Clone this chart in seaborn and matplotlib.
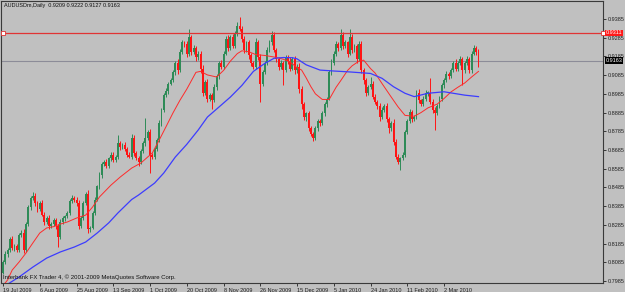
"""
Gráfico diario AUDUSDm al estilo MetaTrader 4: velas, dos medias móviles,
línea horizontal de resistencia y línea de precio Bid.
"""

import matplotlib
matplotlib.use('Agg')
import matplotlib.pyplot as plt
import matplotlib.transforms as mtransforms
import numpy as np
import pandas as pd
import seaborn as sns

# Precios en pips (x 0.0001). La apertura de cada vela es el cierre anterior.
APERTURA_INICIAL = 8030
CIERRES = [
    8085, 8130, 8150, 8210, 8160, 8170, 8150, 8230, 8240, 8150, 8290, 8380, 8430, 8440, 8400, 8370,
    8400, 8340, 8300, 8320, 8280, 8290, 8310, 8280, 8220, 8300, 8320, 8330, 8350, 8410, 8430, 8420,
    8400, 8280, 8320, 8400, 8450, 8260, 8270, 8350, 8420, 8490, 8550, 8610, 8620, 8600, 8640, 8660,
    8630, 8650, 8720, 8700, 8710, 8690, 8660, 8650, 8750, 8670, 8640, 8620, 8680, 8720, 8750, 8780,
    8660, 8650, 8690, 8740, 8830, 8900, 8980, 9000, 9040, 9060, 9100, 9150, 9110, 9210, 9260, 9250,
    9200, 9290, 9210, 9230, 9180, 9200, 9120, 8990, 9050, 8960, 8980, 8950, 9020, 9080, 9150, 9130,
    9200, 9280, 9230, 9290, 9240, 9310, 9350, 9330, 9280, 9220, 9260, 9190, 9150, 9130, 9260, 9180,
    9040, 9100, 9150, 9220, 9260, 9300, 9220, 9170, 9130, 9150, 9110, 9180, 9160, 9120, 9170, 9110,
    9130, 9010, 8930, 8860, 8880, 8800, 8770, 8750, 8800, 8840, 8830, 8880, 8930, 8960, 9100, 9150,
    9200, 9250, 9230, 9300, 9240, 9260, 9200, 9290, 9220, 9240, 9170, 9250, 9110, 9060, 8990, 9020,
    9040, 8970, 8940, 8920, 8860, 8900, 8920, 8850, 8800, 8830, 8730, 8650, 8620, 8640, 8660, 8780,
    8840, 8890, 8850, 8860, 8990, 8950, 8930, 8960, 8990, 8990, 8940, 8900, 8880, 8920, 8960, 9030,
    9060, 9090, 9080, 9110, 9150, 9120, 9150, 9170, 9110, 9150, 9170, 9110, 9200, 9230, 9209, 9163,
]
MECHA_SUP = [
    10, 15, 12, 10, 15, 10, 12, 10, 15, 20, 10, 12, 10, 20, 15, 12,
    10, 15, 12, 10, 15, 8, 10, 12, 10, 15, 10, 8, 10, 12, 15, 10,
    12, 15, 10, 10, 12, 20, 10, 10, 12, 10, 15, 10, 12, 15, 10, 12,
    15, 10, 45, 12, 10, 15, 10, 12, 20, 15, 10, 12, 10, 15, 105, 12,
    15, 10, 12, 10, 15, 10, 12, 15, 10, 12, 15, 10, 20, 15, 12, 10,
    15, 40, 12, 15, 10, 12, 15, 20, 10, 15, 12, 10, 15, 12, 10, 15,
    12, 15, 20, 10, 15, 12, 20, 47, 15, 12, 10, 15, 12, 10, 25, 15,
    20, 12, 10, 15, 12, 20, 15, 10, 12, 15, 10, 15, 12, 20, 10, 15,
    12, 20, 15, 12, 10, 15, 12, 10, 15, 12, 10, 15, 12, 10, 15, 20,
    12, 15, 10, 30, 15, 12, 10, 40, 15, 12, 10, 15, 20, 15, 12, 10,
    35, 15, 12, 10, 15, 12, 10, 15, 12, 10, 20, 15, 12, 10, 15, 10,
    12, 15, 10, 12, 15, 20, 10, 12, 15, 10, 80, 15, 12, 10, 15, 12,
    10, 15, 12, 15, 10, 20, 12, 15, 10, 12, 15, 10, 12, 16, 12, 13,
]
MECHA_INF = [
    10, 12, 15, 10, 12, 15, 10, 12, 10, 15, 12, 10, 15, 10, 12, 15,
    12, 10, 15, 12, 20, 10, 12, 15, 55, 12, 10, 15, 10, 12, 10, 15,
    12, 15, 10, 12, 10, 20, 15, 10, 12, 10, 12, 15, 10, 12, 10, 15,
    12, 10, 12, 15, 10, 12, 15, 10, 12, 15, 10, 20, 12, 10, 15, 12,
    100, 15, 12, 10, 12, 15, 10, 12, 15, 10, 12, 15, 20, 10, 12, 15,
    20, 12, 15, 10, 20, 12, 25, 15, 12, 20, 15, 45, 10, 12, 15, 10,
    12, 10, 15, 12, 10, 12, 15, 10, 20, 15, 12, 20, 15, 12, 10, 15,
    96, 12, 10, 12, 10, 15, 12, 15, 20, 12, 80, 10, 15, 12, 10, 20,
    12, 20, 25, 15, 20, 15, 12, 15, 10, 12, 15, 10, 12, 15, 10, 12,
    10, 12, 15, 10, 15, 12, 20, 10, 15, 12, 20, 10, 15, 20, 15, 12,
    10, 15, 12, 15, 20, 10, 12, 15, 25, 12, 20, 15, 12, 42, 10, 12,
    10, 12, 15, 12, 10, 15, 12, 10, 12, 15, 12, 15, 88, 10, 12, 15,
    12, 10, 15, 12, 10, 15, 12, 10, 80, 12, 10, 15, 12, 10, 15, 36,
]

MA_ROJA_BARRA = [0, 2, 4, 7, 10, 13, 16, 19, 22, 25, 28, 32, 36, 39, 42, 47, 51, 56, 60, 65,
                 68, 71, 74, 77, 80, 84, 86, 89, 93, 96, 99, 102, 104, 107, 110, 114, 118, 122,
                 125, 128, 130, 132, 134, 136, 139, 142, 145, 147, 150, 152, 155, 157, 160, 162,
                 165, 169, 172, 175, 179, 182, 185, 189, 192, 195, 198, 201, 204, 207]
MA_ROJA_VALOR = [7960, 7990, 8043, 8086, 8134, 8188, 8241, 8268, 8275, 8289, 8300, 8321, 8337,
                 8380, 8434, 8497, 8540, 8588, 8615, 8669, 8738, 8810, 8883, 8950, 9010, 9100,
                 9105, 9086, 9075, 9110, 9160, 9200, 9215, 9210, 9195, 9190, 9182, 9170, 9155,
                 9125, 9112, 9070, 9024, 8985, 8955, 8955, 9020, 9055, 9110, 9135, 9160, 9165,
                 9120, 9096, 9040, 8968, 8915, 8870, 8865, 8885, 8910, 8930, 8960, 8995, 9020,
                 9043, 9075, 9105]
MA_AZUL_BARRA = [0, 7, 13, 19, 25, 31, 36, 41, 46, 50, 56, 59, 66, 70, 75, 80, 85, 89, 95, 99,
                 104, 109, 114, 118, 122, 126, 128, 132, 138, 144, 151, 160, 165, 170, 175, 179,
                 185, 192, 196, 201, 207]
MA_AZUL_VALOR = [7952, 8006, 8059, 8107, 8140, 8166, 8193, 8241, 8295, 8348, 8420, 8444, 8508,
                 8562, 8647, 8715, 8792, 8861, 8925, 8968, 9030, 9105, 9148, 9175, 9179, 9178,
                 9172, 9140, 9112, 9107, 9102, 9094, 9068, 9023, 8988, 8970, 8988, 8996, 8988,
                 8978, 8970]

BARRAS_FECHA = [0, 16, 32, 48, 64, 80, 96, 112, 128, 144, 160, 176, 192]
ETIQUETAS_FECHA = ['19 Jul 2009', '6 Aug 2009', '25 Aug 2009', '13 Sep 2009', '1 Oct 2009',
                   '20 Oct 2009', '8 Nov 2009', '26 Nov 2009', '15 Dec 2009', '5 Jan 2010',
                   '24 Jan 2010', '11 Feb 2010', '2 Mar 2010']
NIVELES_Y = [0.7985, 0.8085, 0.8185, 0.8285, 0.8385, 0.8485, 0.8585, 0.8685, 0.8785,
             0.8885, 0.8985, 0.9085, 0.9185, 0.9285, 0.9385]
LINEA_HORIZONTAL = 0.9311
PRECIO_BID = 0.9163
ULTIMA_OHLC = ['0.9209', '0.9222', '0.9127', '0.9163']

FONDO = '#c0c0c0'
VERDE = '#2e8b57'
ROJO = '#ff1414'


def construir_velas() -> pd.DataFrame:
    assert len(CIERRES) == len(MECHA_SUP) == len(MECHA_INF)
    cierre = np.array(CIERRES, dtype=float)
    apertura = np.concatenate([[APERTURA_INICIAL], cierre[:-1]])
    maximo = np.maximum(apertura, cierre) + np.array(MECHA_SUP)
    minimo = np.minimum(apertura, cierre) - np.array(MECHA_INF)
    df = pd.DataFrame({'barra': np.arange(len(cierre)), 'open': apertura / 1e4,
                       'high': maximo / 1e4, 'low': minimo / 1e4, 'close': cierre / 1e4})
    return df


def main():
    plt.rcParams['font.family'] = ['Liberation Sans', 'DejaVu Sans']
    df = construir_velas()

    fig = plt.figure(figsize=(6.25, 2.92), dpi=100, facecolor=FONDO)
    # borde del área: x 1..603 px, y 1..283 px
    ax = fig.add_axes([1 / 625, 1 - 283 / 292, 602 / 625, 282 / 292], facecolor=FONDO)

    sube = df['close'] >= df['open']
    colores = np.where(sube, VERDE, ROJO)
    cuerpo = (df['close'] - df['open']).abs().clip(lower=0.00025)
    base = df[['open', 'close']].min(axis=1)
    ax.vlines(df['barra'], df['low'], df['high'], colors=colores, linewidth=0.7, zorder=2)
    ax.bar(df['barra'], cuerpo, bottom=base, width=0.82, color=colores, linewidth=0, zorder=3)

    sns.lineplot(x=MA_ROJA_BARRA, y=np.array(MA_ROJA_VALOR) / 1e4, ax=ax, color='#ff2a2a',
                 linewidth=0.7, zorder=4)
    sns.lineplot(x=MA_AZUL_BARRA, y=np.array(MA_AZUL_VALOR) / 1e4, ax=ax, color='#3c3cff',
                 linewidth=0.9, zorder=4)

    x_izq, x_der = -0.87, 261.2
    ax.set_xlim(x_izq, x_der)
    ax.set_ylim(0.79739, 0.94812)

    # línea de precio Bid y resistencia horizontal
    ax.axhline(PRECIO_BID, color='#8c8c98', linewidth=0.8, zorder=1)
    ax.axhline(LINEA_HORIZONTAL, color='#e03434', linewidth=0.9, zorder=5)
    ax.plot([0.0, x_der], [LINEA_HORIZONTAL, LINEA_HORIZONTAL], 's', ms=2.4, mfc='white',
            mec='#e03434', mew=0.6, clip_on=False, zorder=6)

    # ejes
    ax.yaxis.tick_right()
    ax.set_yticks(NIVELES_Y)
    ax.set_yticklabels([f'{v:.4f}' for v in NIVELES_Y])
    ax.set_xticks(BARRAS_FECHA)
    ax.set_xticklabels(ETIQUETAS_FECHA, ha='left')
    ax.tick_params(axis='y', length=2.5, width=0.6, pad=1.2, labelsize=4.0, colors='#202020')
    ax.tick_params(axis='x', length=2.5, width=0.6, pad=0.8, labelsize=4.0, colors='#202020')
    for lbl in ax.get_xticklabels():
        lbl.set_transform(lbl.get_transform() + mtransforms.ScaledTranslation(0.2 / 100, 0, fig.dpi_scale_trans))
    ax.set_xlabel('')
    ax.set_ylabel('')
    for s in ax.spines.values():
        s.set_color('#3a3a3a')
        s.set_linewidth(0.8)

    # etiquetas de precio a la derecha
    trans = mtransforms.blended_transform_factory(ax.transAxes, ax.transData)
    ax.text(1.004, LINEA_HORIZONTAL, f'{LINEA_HORIZONTAL:.4f}', transform=trans, fontsize=4.0,
            color='white', va='center', ha='left', zorder=7,
            bbox=dict(boxstyle='square,pad=0.15', fc='#ff1a1a', ec='none'))
    ax.text(1.004, PRECIO_BID, f'{PRECIO_BID:.4f}', transform=trans, fontsize=4.0,
            color='white', va='center', ha='left', zorder=7,
            bbox=dict(boxstyle='square,pad=0.15', fc='black', ec='none'))

    fig.text(4 / 625, 1 - 6 / 292, 'AUDUSDm,Daily  ' + ' '.join(ULTIMA_OHLC),
             fontsize=4.0, color='#101010', va='center', ha='left')
    fig.text(3 / 625, 1 - 277 / 292,
             'Interbank FX Trader 4, © 2001-2009 MetaQuotes Software Corp.',
             fontsize=4.3, color='#101010', va='center', ha='left')

    fig.savefig('out.png', dpi=100, facecolor=FONDO)
    plt.close(fig)


if __name__ == '__main__':
    main()
